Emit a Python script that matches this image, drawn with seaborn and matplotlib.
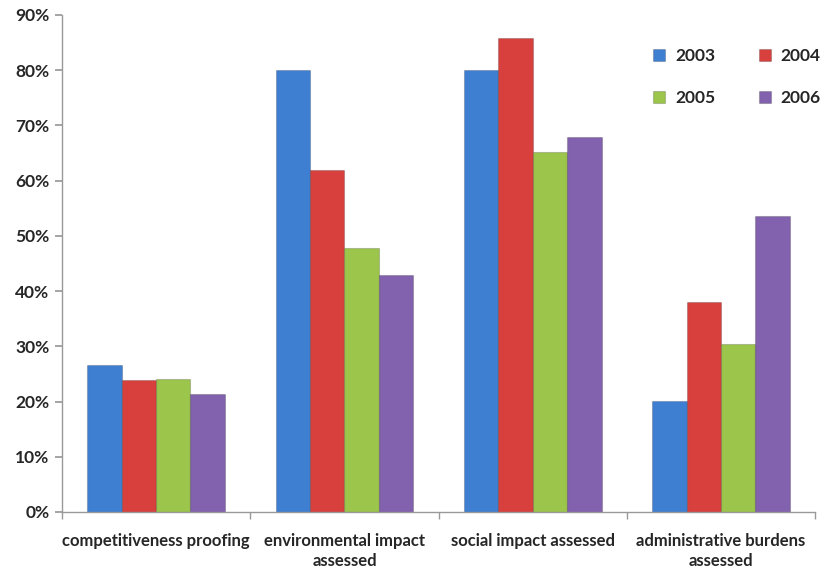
import matplotlib
matplotlib.use("Agg")
import matplotlib.pyplot as plt
import seaborn as sns
import pandas as pd
from matplotlib.ticker import FuncFormatter, FixedLocator

categories = ["competitiveness proofing", "environmental impact\nassessed",
              "social impact assessed", "administrative burdens\nassessed"]
years = ["2003", "2004", "2005", "2006"]
v2003 = [26.7, 80.0, 80.0, 20.1]
v2004 = [23.9, 62.0, 85.8, 38.1]
v2005 = [24.0, 47.8, 65.2, 30.4]
v2006 = [21.4, 42.9, 67.9, 53.6]
colors = ["#3F7FD2", "#D8403D", "#9CC54B", "#8262AE"]

rows = []
for y, vals in zip(years, [v2003, v2004, v2005, v2006]):
    for c, v in zip(categories, vals):
        rows.append({"category": c, "year": y, "value": v})
df = pd.DataFrame(rows)

sns.set_theme(style="white")
plt.rcParams["font.family"] = ["Lato", "DejaVu Sans"]

fig = plt.figure(figsize=(8.26, 5.73), dpi=100)
ax = fig.add_axes([0.075, 0.1065, 0.912, 0.8675])
sns.barplot(data=df, x="category", y="value", hue="year", palette=colors,
            width=0.73, ax=ax, edgecolor="none", saturation=1)

for bar in ax.patches:
    bar.set_edgecolor((0, 0, 0, 0.18))
    bar.set_linewidth(0.8)

ax.set_ylim(0, 90)
ax.set_xlim(-0.5, 3.5)
ax.yaxis.set_major_locator(FixedLocator(list(range(0, 91, 10))))
ax.yaxis.set_major_formatter(FuncFormatter(lambda v, p: f"{int(v)}%"))
ax.set_xlabel("")
ax.set_ylabel("")
for s in ["top", "right"]:
    ax.spines[s].set_visible(False)
for s in ["left", "bottom"]:
    ax.spines[s].set_color("#999999")
    ax.spines[s].set_linewidth(1)

ax.tick_params(axis="y", which="major", left=True, length=5, color="#999999",
               labelsize=12.5, pad=4)
ax.tick_params(axis="x", which="major", bottom=False, labelsize=12, pad=9)
ax.set_xticks([-0.5, 0.5, 1.5, 2.5, 3.5], minor=True)
ax.tick_params(axis="x", which="minor", bottom=True, length=5, color="#999999")
for lab in ax.get_yticklabels() + ax.get_xticklabels():
    lab.set_fontweight("bold")
for lab in ax.get_xticklabels():
    lab.set_linespacing(1.35)

handles, labels = ax.get_legend_handles_labels()
ax.get_legend().remove()
order = [0, 2, 1, 3]
leg = fig.legend([handles[i] for i in order], [labels[i] for i in order],
                 title=None, ncol=2, frameon=False, loc="upper left",
                 bbox_to_anchor=(0.772, 0.943), prop={"size": 12.5, "weight": "bold"},
                 handlelength=0.69, handleheight=0.69, columnspacing=2.5,
                 labelspacing=1.5, handletextpad=0.57)

fig.savefig("out.png", dpi=100)
